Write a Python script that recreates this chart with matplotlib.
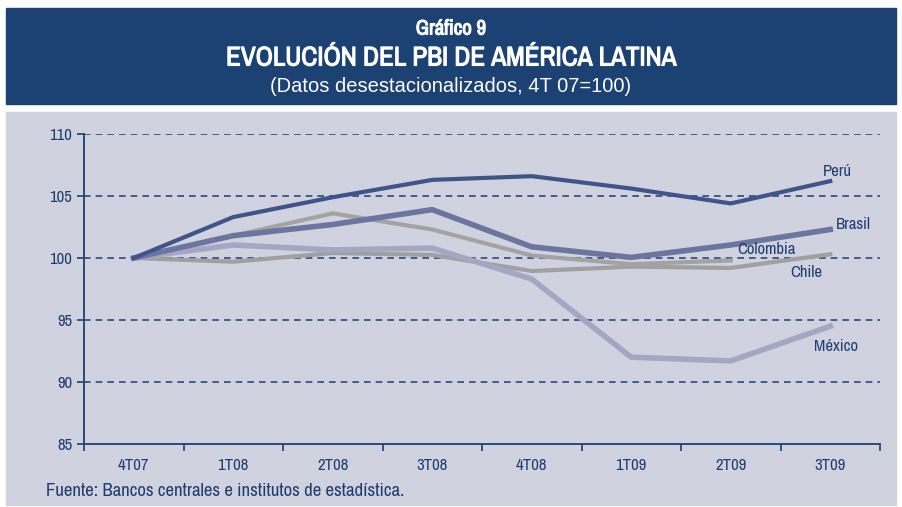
import matplotlib
matplotlib.use("Agg")
import matplotlib.pyplot as plt
from matplotlib.patches import Rectangle
from matplotlib import font_manager
import matplotlib.patheffects as pe

# prefer a condensed face if one is installed
narrow = [f.name for f in font_manager.fontManager.ttflist if "Narrow" in f.name]
if narrow:
    plt.rcParams['font.family'] = [narrow[0], 'DejaVu Sans']
else:
    plt.rcParams['font.family'] = ['DejaVu Sans']
    plt.rcParams['font.stretch'] = 'condensed'

periods = ["4T07", "1T08", "2T08", "3T08", "4T08", "1T09", "2T09", "3T09"]
peru = [100, 103.3, 104.9, 106.3, 106.6, 105.6, 104.4, 106.2]
brasil = [100, 101.8, 102.7, 103.9, 100.9, 100.05, 101.05, 102.3]
colombia = [100, 101.8, 103.6, 102.3, 100.2, 99.5, 99.8]
chile = [100, 99.7, 100.4, 100.25, 98.95, 99.3, 99.2, 100.3]
mexico = [100, 101.05, 100.65, 100.8, 98.3, 92.0, 91.7, 94.5]

navy = "#1c4173"
txt = "#1f3d70"
bold = [pe.withStroke(linewidth=0.8, foreground="white")]

fig = plt.figure(figsize=(9.02, 5.07), dpi=100)
fig.patches.append(Rectangle((6/902, 1-104/507), 890/902, 96/507,
                             transform=fig.transFigure, color=navy, zorder=-2))
fig.patches.append(Rectangle((6/902, 1-505/507), 890/902, 393/507,
                             transform=fig.transFigure, color="#d0d2df", zorder=-2))

fig.text(0.5, 1-29/507, "Gráfico 9", ha="center", va="center", color="white",
         fontsize=15, path_effects=bold)
fig.text(0.5, 1-58/507, "EVOLUCIÓN DEL PBI DE AMÉRICA LATINA", ha="center", va="center",
         color="white", fontsize=19.5, path_effects=bold)
fig.text(0.5, 1-86/507, "(Datos desestacionalizados, 4T 07=100)", ha="center", va="center",
         color="white", fontsize=14.5, family=["Liberation Sans", "DejaVu Sans"])

ax = fig.add_axes([84/902, 1-444/507, 796/902, 310/507])
ax.set_zorder(2)
ax.set_facecolor("none")

x = list(range(len(periods)))
ax.plot(x, chile, color="#a0a0a0", lw=3)
ax.plot(x[:len(colombia)], colombia, color="#a3a3a3", lw=3)
ax.plot(x, mexico, color="#a4a7c4", lw=4)
ax.plot(x, brasil, color="#6c74a0", lw=4)
ax.plot(x, peru, color="#3f5488", lw=3)

for v in [90, 95, 100, 105, 110]:
    ax.axhline(v, color="#2a4a80", lw=1.2, ls=(0, (4, 3)), zorder=1)

ax.set_xlim(-0.5, len(periods) - 0.5)
ax.set_ylim(85, 110)
ax.set_yticks([85, 90, 95, 100, 105, 110])
ax.set_xticks(x)
ax.set_xticklabels(periods)
ax.set_xticks([i - 0.5 for i in range(len(periods) + 1)], minor=True)
ax.tick_params(axis="x", which="major", length=0, pad=10, labelsize=12, labelcolor=txt)
ax.tick_params(axis="x", which="minor", length=5, width=1.2, color=navy, direction="out")
ax.tick_params(axis="y", length=5, width=1.2, color=navy, labelsize=12, labelcolor=txt)
for s in ["top", "right"]:
    ax.spines[s].set_visible(False)
for s in ["left", "bottom"]:
    ax.spines[s].set_color(navy)
    ax.spines[s].set_linewidth(1.3)

ax.text(6.93, 107.0, "Perú", color=txt, fontsize=12, va="center")
ax.text(7.06, 102.74, "Brasil", color=txt, fontsize=12, va="center")
ax.text(6.07, 100.65, "Colombia", color=txt, fontsize=12, va="center")
ax.text(6.6, 98.8, "Chile", color=txt, fontsize=12, va="center")
ax.text(6.84, 92.9, "México", color=txt, fontsize=12, va="center")

fig.text(46/902, 1-491/507, "Fuente: Bancos centrales e institutos de estadística.",
         color=txt, fontsize=13.5, va="center")

fig.savefig("out.png", dpi=100)
